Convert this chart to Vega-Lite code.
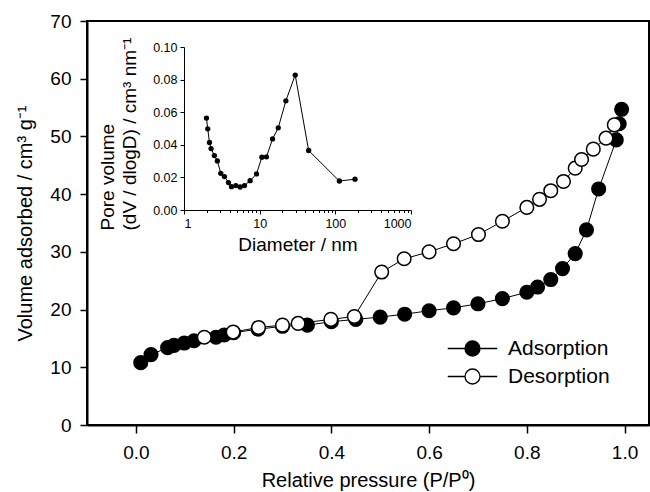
{
  "$schema": "https://vega.github.io/schema/vega-lite/v6.json",
  "width": 562,
  "height": 404,
  "autosize": "none",
  "padding": {"left": 87, "top": 21, "right": 1, "bottom": 67},
  "background": "white",
  "config": {
    "font": "Liberation Sans",
    "view": {"stroke": "black", "strokeWidth": 2},
    "axis": {
      "grid": false,
      "domainColor": "black",
      "tickColor": "black",
      "labelColor": "black",
      "titleColor": "black",
      "titleFontWeight": "normal",
      "labelFont": "Liberation Sans",
      "titleFont": "Liberation Sans"
    },
    "legend": {"labelColor": "black", "labelFont": "Liberation Sans"}
  },
  "datasets": {
    "iso": [
      {"p": 0.010, "v": 10.8, "series": "Adsorption"},
      {"p": 0.031, "v": 12.2, "series": "Adsorption"},
      {"p": 0.065, "v": 13.4, "series": "Adsorption"},
      {"p": 0.078, "v": 13.8, "series": "Adsorption"},
      {"p": 0.099, "v": 14.2, "series": "Adsorption"},
      {"p": 0.119, "v": 14.6, "series": "Adsorption"},
      {"p": 0.164, "v": 15.2, "series": "Adsorption"},
      {"p": 0.181, "v": 15.6, "series": "Adsorption"},
      {"p": 0.200, "v": 16.0, "series": "Adsorption"},
      {"p": 0.250, "v": 16.6, "series": "Adsorption"},
      {"p": 0.300, "v": 17.1, "series": "Adsorption"},
      {"p": 0.351, "v": 17.3, "series": "Adsorption"},
      {"p": 0.400, "v": 17.9, "series": "Adsorption"},
      {"p": 0.450, "v": 18.3, "series": "Adsorption"},
      {"p": 0.500, "v": 18.7, "series": "Adsorption"},
      {"p": 0.550, "v": 19.2, "series": "Adsorption"},
      {"p": 0.600, "v": 19.8, "series": "Adsorption"},
      {"p": 0.650, "v": 20.3, "series": "Adsorption"},
      {"p": 0.700, "v": 21.0, "series": "Adsorption"},
      {"p": 0.750, "v": 21.9, "series": "Adsorption"},
      {"p": 0.800, "v": 23.0, "series": "Adsorption"},
      {"p": 0.822, "v": 23.9, "series": "Adsorption"},
      {"p": 0.849, "v": 25.2, "series": "Adsorption"},
      {"p": 0.873, "v": 27.1, "series": "Adsorption"},
      {"p": 0.899, "v": 29.7, "series": "Adsorption"},
      {"p": 0.922, "v": 33.8, "series": "Adsorption"},
      {"p": 0.947, "v": 40.9, "series": "Adsorption"},
      {"p": 0.983, "v": 49.4, "series": "Adsorption"},
      {"p": 0.989, "v": 52.2, "series": "Adsorption"},
      {"p": 0.994, "v": 54.7, "series": "Adsorption"},
      {"p": 0.140, "v": 15.2, "series": "Desorption"},
      {"p": 0.199, "v": 16.1, "series": "Desorption"},
      {"p": 0.251, "v": 16.9, "series": "Desorption"},
      {"p": 0.300, "v": 17.3, "series": "Desorption"},
      {"p": 0.332, "v": 17.6, "series": "Desorption"},
      {"p": 0.399, "v": 18.3, "series": "Desorption"},
      {"p": 0.447, "v": 18.8, "series": "Desorption"},
      {"p": 0.503, "v": 26.5, "series": "Desorption"},
      {"p": 0.549, "v": 28.8, "series": "Desorption"},
      {"p": 0.600, "v": 30.0, "series": "Desorption"},
      {"p": 0.650, "v": 31.4, "series": "Desorption"},
      {"p": 0.701, "v": 33.0, "series": "Desorption"},
      {"p": 0.750, "v": 35.3, "series": "Desorption"},
      {"p": 0.800, "v": 37.7, "series": "Desorption"},
      {"p": 0.826, "v": 39.1, "series": "Desorption"},
      {"p": 0.849, "v": 40.6, "series": "Desorption"},
      {"p": 0.875, "v": 42.2, "series": "Desorption"},
      {"p": 0.899, "v": 44.5, "series": "Desorption"},
      {"p": 0.912, "v": 46.0, "series": "Desorption"},
      {"p": 0.936, "v": 47.8, "series": "Desorption"},
      {"p": 0.962, "v": 49.7, "series": "Desorption"},
      {"p": 0.979, "v": 52.0, "series": "Desorption"}
    ],
    "psd": [
      {"d": 1.98, "pv": 0.0564},
      {"d": 2.06, "pv": 0.0498},
      {"d": 2.17, "pv": 0.0414},
      {"d": 2.28, "pv": 0.0377},
      {"d": 2.52, "pv": 0.0334},
      {"d": 2.76, "pv": 0.0301},
      {"d": 3.06, "pv": 0.0225},
      {"d": 3.42, "pv": 0.0205},
      {"d": 3.87, "pv": 0.0168},
      {"d": 4.24, "pv": 0.0143},
      {"d": 4.84, "pv": 0.0150},
      {"d": 5.52, "pv": 0.0141},
      {"d": 6.30, "pv": 0.0150},
      {"d": 7.48, "pv": 0.0180},
      {"d": 9.08, "pv": 0.0221},
      {"d": 10.7, "pv": 0.0324},
      {"d": 12.3, "pv": 0.0326},
      {"d": 14.8, "pv": 0.0436},
      {"d": 17.6, "pv": 0.0504},
      {"d": 22.2, "pv": 0.0670},
      {"d": 29.5, "pv": 0.0828},
      {"d": 44.4, "pv": 0.0365},
      {"d": 113, "pv": 0.0178},
      {"d": 182, "pv": 0.0189}
    ]
  },
  "layer": [
    {
      "data": {"name": "iso"},
      "encoding": {
        "x": {
          "field": "p", "type": "quantitative",
          "scale": {"domain": [-0.1, 1.05], "nice": false, "zero": false},
          "axis": {
            "values": [0, 0.2, 0.4, 0.6, 0.8, 1.0], "format": ".1f",
            "title": "Relative pressure (P/P⁰)",
            "labelFontSize": 19, "titleFontSize": 20,
            "tickSize": 8, "tickWidth": 1.5, "domainWidth": 2,
            "labelPadding": 10, "titlePadding": 8
          }
        },
        "y": {
          "field": "v", "type": "quantitative",
          "scale": {"domain": [0, 70], "nice": false},
          "axis": {
            "values": [0, 10, 20, 30, 40, 50, 60, 70],
            "title": "Volume adsorbed / cm³ g⁻¹",
            "labelFontSize": 19, "titleFontSize": 20,
            "tickSize": 7, "tickWidth": 1.5, "domainWidth": 2,
            "labelPadding": 9, "titlePadding": 14
          }
        }
      },
      "layer": [
        {
          "mark": {"type": "line", "color": "black", "strokeWidth": 1},
          "encoding": {"detail": {"field": "series"}}
        },
        {
          "mark": {"type": "point", "filled": true, "stroke": "black", "strokeWidth": 1.5, "size": 185, "opacity": 1},
          "encoding": {
            "fill": {
              "field": "series", "type": "nominal",
              "scale": {"domain": ["Adsorption", "Desorption"], "range": ["black", "white"]},
              "legend": {
                "title": null, "orient": "none", "legendX": 375, "legendY": 317,
                "padding": 0,
                "symbolType": "M-3.3,0H-1M1,0H3.3M1,0A1,1,0,1,1,-1,0A1,1,0,1,1,1,0Z",
                "symbolSize": 225, "symbolStrokeColor": "black", "symbolStrokeWidth": 1.3,
                "symbolOpacity": 1,
                "labelFontSize": 21, "labelOffset": 25, "rowPadding": 6
              }
            }
          }
        }
      ]
    },
    {
      "data": {"name": "psd"},
      "mark": {"type": "line", "color": "black", "strokeWidth": 1},
      "encoding": {
        "x": {
          "field": "d", "type": "quantitative",
          "scale": {"type": "log", "domain": [1, 1000], "range": [97, 324], "nice": false},
          "axis": {
            "orient": "bottom", "offset": -215,
            "values": [1, 10, 100, 1000], "format": "d",
            "title": "Diameter / nm",
            "labelFontSize": 12.5, "titleFontSize": 19,
            "tickSize": 4, "tickWidth": 1, "domainWidth": 1,
            "labelPadding": 3, "titlePadding": 6
          }
        },
        "y": {
          "field": "pv", "type": "quantitative",
          "scale": {"domain": [0, 0.1], "range": [189, 26], "nice": false, "zero": false},
          "axis": {
            "orient": "left", "offset": -97,
            "values": [0, 0.02, 0.04, 0.06, 0.08, 0.1], "format": ".2f",
            "title": ["Pore volume", "(dV / dlogD) / cm³ nm⁻¹"],
            "labelFontSize": 12.5, "titleFontSize": 19, "titleLineHeight": 22,
            "titleAngle": 270, "titleAlign": "left", "titleBaseline": "bottom",
            "titleX": -67, "titleY": 209,
            "tickSize": 4, "tickWidth": 1, "domainWidth": 1,
            "labelPadding": 3
          }
        }
      }
    },
    {
      "data": {"name": "psd"},
      "mark": {"type": "point", "filled": true, "color": "black", "size": 28, "opacity": 1},
      "encoding": {
        "x": {
          "field": "d", "type": "quantitative",
          "scale": {"type": "log", "domain": [1, 1000], "range": [97, 324], "nice": false},
          "axis": {
            "orient": "bottom", "offset": -215,
            "values": [2, 3, 4, 5, 6, 7, 8, 9, 20, 30, 40, 50, 60, 70, 80, 90, 200, 300, 400, 500, 600, 700, 800, 900],
            "labels": false, "domain": false, "title": null,
            "tickSize": 2.5, "tickWidth": 1
          }
        },
        "y": {
          "field": "pv", "type": "quantitative",
          "scale": {"domain": [0, 0.1], "range": [189, 26], "nice": false, "zero": false},
          "axis": null
        }
      }
    }
  ],
  "resolve": {
    "scale": {"x": "independent", "y": "independent"},
    "axis": {"x": "independent", "y": "independent"}
  }
}
